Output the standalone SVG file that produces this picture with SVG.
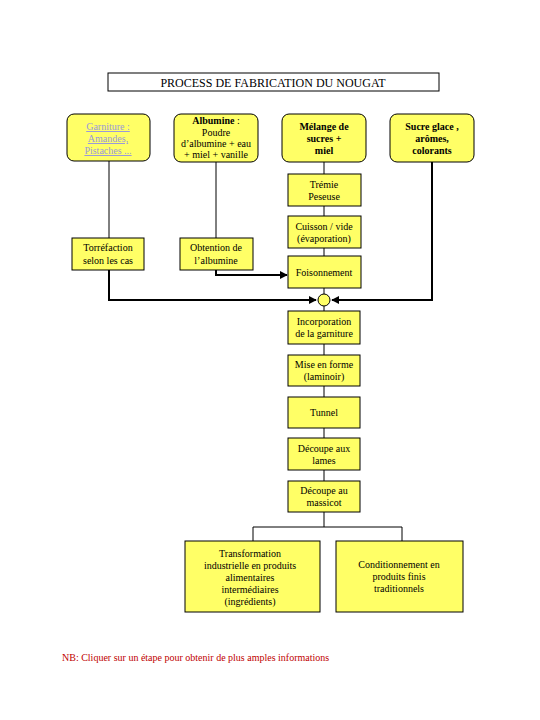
<svg xmlns="http://www.w3.org/2000/svg" width="540" height="720" viewBox="0 0 540 720">
<style>
text{font-family:'Liberation Serif','DejaVu Serif',serif;font-size:10px;fill:#000;text-anchor:middle}
text.ttl{font-size:12px}
.box{fill:#ffff66;stroke:#000;stroke-width:1}
.b{font-weight:bold}
.lnk{fill:#9a9ad8;text-decoration:underline}
.ln{fill:none;stroke:#000;stroke-width:1}
.th{fill:none;stroke:#000;stroke-width:2}
</style>
<defs>
<marker id="ar" viewBox="0 0 10 10" refX="9" refY="5" markerWidth="4" markerHeight="4" orient="auto" markerUnits="strokeWidth">
<path d="M0,0 L10,5 L0,10 z" fill="#000"/>
</marker>
</defs>
<rect width="540" height="720" fill="#fff"/>
<g id="title">
<rect x="108" y="73" width="331" height="18" fill="#fff" stroke="#000"/>
<text class="ttl" x="273" y="87">PROCESS DE FABRICATION DU NOUGAT</text>
</g>
<g id="connectors">
<line class="ln" x1="109" y1="161" x2="109" y2="238"/>
<polyline class="th" points="109,270 109,300 316,300" marker-end="url(#ar)"/>
<line class="ln" x1="216" y1="162" x2="216" y2="238"/>
<polyline class="th" points="216,270 216,275 287,275" marker-end="url(#ar)"/>
<line class="ln" x1="324" y1="162" x2="324" y2="174"/>
<line class="ln" x1="324" y1="206" x2="324" y2="216"/>
<line class="ln" x1="324" y1="248" x2="324" y2="256"/>
<line class="ln" x1="324" y1="288" x2="324" y2="294"/>
<polyline class="th" points="432,162 432,300 332,300" marker-end="url(#ar)"/>
<line class="ln" x1="324" y1="306" x2="324" y2="311"/>
<line class="ln" x1="324" y1="344" x2="324" y2="355"/>
<line class="ln" x1="324" y1="386" x2="324" y2="397"/>
<line class="ln" x1="324" y1="428" x2="324" y2="438"/>
<line class="ln" x1="324" y1="470" x2="324" y2="481"/>
<polyline class="ln" points="324,512 324,527"/>
<polyline class="ln" points="253,541 253,527 402,527 402,541"/>
</g>
<g id="n-garniture">
<rect class="box" x="67" y="114" width="83" height="47" rx="7"/>
<text class="lnk" x="108" y="130">Garniture :</text>
<text class="lnk" x="108" y="142">Amandes,</text>
<text class="lnk" x="108" y="154">Pistaches ...</text>
</g>
<g id="n-albumine">
<rect class="box" x="174" y="114" width="84" height="48" rx="7"/>
<text x="216" y="124"><tspan class="b">Albumine</tspan> :</text>
<text x="216" y="136">Poudre</text>
<text x="216" y="147">d’albumine + eau</text>
<text x="216" y="158">+ miel + vanille</text>
</g>
<g id="n-melange">
<rect class="box" x="282" y="114" width="84" height="48" rx="7"/>
<text class="b" x="324" y="130">Mélange de</text>
<text class="b" x="324" y="142">sucres +</text>
<text class="b" x="324" y="154">miel</text>
</g>
<g id="n-sucre">
<rect class="box" x="390" y="114" width="84" height="48" rx="7"/>
<text class="b" x="432" y="130">Sucre glace ,</text>
<text class="b" x="432" y="142">arômes,</text>
<text class="b" x="432" y="154">colorants</text>
</g>
<g id="n-tremie">
<rect class="box" x="288" y="174" width="73" height="32"/>
<text x="324" y="188">Trémie</text>
<text x="324" y="200">Peseuse</text>
</g>
<g id="n-cuisson">
<rect class="box" x="288" y="216" width="73" height="32"/>
<text x="324" y="230">Cuisson / vide</text>
<text x="324" y="242">(évaporation)</text>
</g>
<g id="n-foisonnement">
<rect class="box" x="288" y="256" width="73" height="32"/>
<text x="324" y="276">Foisonnement</text>
</g>
<g id="n-torrefaction">
<rect class="box" x="72" y="238" width="72" height="32"/>
<text x="108" y="251">Torréfaction</text>
<text x="108" y="264">selon les cas</text>
</g>
<g id="n-obtention">
<rect class="box" x="180" y="238" width="73" height="32"/>
<text x="216" y="251">Obtention de</text>
<text x="216" y="264">l’albumine</text>
</g>
<g id="n-junction">
<circle cx="324" cy="300" r="6" fill="#ffff66" stroke="#000"/>
</g>
<g id="n-incorporation">
<rect class="box" x="288" y="311" width="72" height="33"/>
<text x="324" y="325">Incorporation</text>
<text x="324" y="337">de la garniture</text>
</g>
<g id="n-mise">
<rect class="box" x="288" y="355" width="72" height="31"/>
<text x="324" y="368">Mise en forme</text>
<text x="324" y="380">(laminoir)</text>
</g>
<g id="n-tunnel">
<rect class="box" x="288" y="397" width="72" height="31"/>
<text x="324" y="416">Tunnel</text>
</g>
<g id="n-lames">
<rect class="box" x="288" y="438" width="72" height="32"/>
<text x="324" y="452">Découpe aux</text>
<text x="324" y="464">lames</text>
</g>
<g id="n-massicot">
<rect class="box" x="288" y="481" width="72" height="31"/>
<text x="324" y="494">Découpe au</text>
<text x="324" y="506">massicot</text>
</g>
<g id="n-transformation">
<rect class="box" x="185" y="541" width="135" height="71"/>
<text x="250" y="557">Transformation</text>
<text x="250" y="569">industrielle en produits</text>
<text x="250" y="581">alimentaires</text>
<text x="250" y="593">intermédiaires</text>
<text x="250" y="605">(ingrédients)</text>
</g>
<g id="n-conditionnement">
<rect class="box" x="336" y="541" width="127" height="71"/>
<text x="399" y="568">Conditionnement en</text>
<text x="399" y="580">produits finis</text>
<text x="399" y="592">traditionnels</text>
</g>
<g id="note">
<text x="62" y="661" style="text-anchor:start;fill:#c00000">NB: Cliquer sur un étape pour obtenir de plus amples informations</text>
</g>
</svg>
